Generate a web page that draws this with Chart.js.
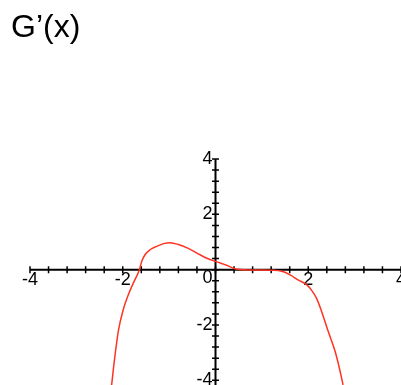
<!DOCTYPE html>
<html lang="en">
<head>
<meta charset="UTF-8">
<title>G'(x)</title>
<script src="https://cdn.jsdelivr.net/npm/chart.js"></script>
<style>
  body { margin: 0; background: #fff; }
  #title {
    position: absolute; left: 11px; top: 6px;
    font-family: "Liberation Sans", Arial, sans-serif;
    font-size: 32px; color: #000; line-height: 40px;
  }
  #wrap { position: absolute; left: 0; top: 0; width: 401px; height: 385px; }
</style>
</head>
<body>
<div id="wrap"><canvas id="plot"></canvas></div>
<div id="title">G’(x)</div>

<script>
// curve samples of G'(x)
const xs = [-2.24, -2.17, -2.09, -1.99, -1.88, -1.77, -1.64, -1.59, -1.52, -1.41, -1.27, -1.12,
            -0.98, -0.8, -0.6, -0.4, -0.2, 0.03, 0.24, 0.44, 0.7, 1.0, 1.2, 1.43, 1.61, 1.78,
            1.97, 2.07, 2.18, 2.29, 2.43, 2.58, 2.72, 2.75];
const ys = [-4.17, -3.14, -2.17, -1.45, -0.91, -0.48, 0.0, 0.3, 0.54, 0.72, 0.84, 0.94,
            0.97, 0.91, 0.78, 0.6, 0.42, 0.28, 0.16, 0.02, -0.01, -0.01, -0.02, -0.06, -0.19, -0.37,
            -0.55, -0.74, -1.04, -1.52, -2.23, -2.96, -3.92, -4.17];

// axis labels
const xLabels = [-4, -2, 0, 2, 4];
const yLabels = [4, 2, -2, -4];
const minorStep = 0.4;

const points = xs.map((x, i) => ({ x: x, y: ys[i] }));

const labelFont = '18px "Liberation Sans", Arial, sans-serif';

// axes through the origin with cross ticks, Maple style
const crossAxes = {
  id: 'crossAxes',
  beforeDatasetsDraw(chart) {
    const { ctx, scales: { x, y } } = chart;
    const x0 = x.getPixelForValue(0);
    const y0 = y.getPixelForValue(0);
    ctx.save();
    ctx.strokeStyle = '#000';
    ctx.lineWidth = 2;
    ctx.beginPath();
    ctx.moveTo(x.getPixelForValue(-4), y0);
    ctx.lineTo(x.getPixelForValue(4), y0);
    ctx.moveTo(x0, y.getPixelForValue(4));
    ctx.lineTo(x0, y.getPixelForValue(y.min));
    ctx.stroke();

    ctx.lineWidth = 1.5;
    ctx.beginPath();
    for (let v = -4; v <= 4.001; v += minorStep) {
      const px = x.getPixelForValue(v);
      ctx.moveTo(px, y0 - 3.5);
      ctx.lineTo(px, y0 + 3.5);
    }
    for (let v = 4; v >= y.min; v -= minorStep) {
      const py = y.getPixelForValue(v);
      ctx.moveTo(x0 - 3.5, py);
      ctx.lineTo(x0 + 3.5, py);
    }
    ctx.stroke();

    ctx.fillStyle = '#000';
    ctx.font = labelFont;
    ctx.textBaseline = 'top';
    xLabels.forEach(v => {
      if (v === 0) {
        ctx.textAlign = 'right';
        ctx.fillText(String(v), x0 - 3, y0 - 1);
      } else {
        ctx.textAlign = 'center';
        ctx.fillText(String(v), x.getPixelForValue(v), y0 + 1);
      }
    });
    ctx.textAlign = 'right';
    ctx.textBaseline = 'middle';
    yLabels.forEach(v => {
      ctx.fillText(String(v), x0 - 3, y.getPixelForValue(v));
    });
    ctx.restore();
  }
};

new Chart(document.getElementById('plot'), {
  type: 'line',
  data: {
    datasets: [{
      data: points,
      borderColor: '#ff3322',
      borderWidth: 1.5,
      pointRadius: 0,
      cubicInterpolationMode: 'monotone',
      fill: false
    }]
  },
  options: {
    responsive: true,
    maintainAspectRatio: false,
    animation: false,
    layout: { padding: { left: 30, top: 159, right: 0, bottom: 0 } },
    plugins: { legend: { display: false }, tooltip: { enabled: false } },
    scales: {
      x: { type: 'linear', min: -4, max: 4, display: false },
      y: { type: 'linear', min: -4.17, max: 4, display: false }
    }
  },
  plugins: [crossAxes]
});
</script>
</body>
</html>
